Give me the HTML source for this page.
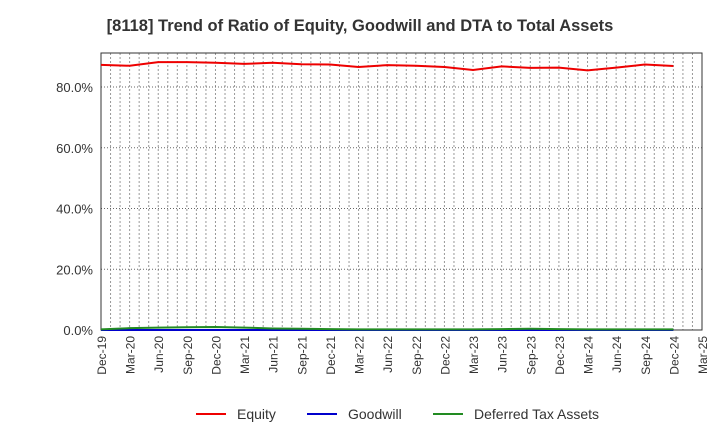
<!DOCTYPE html>
<html><head><meta charset="utf-8"><style>
body{margin:0;background:#fff;font-family:"Liberation Sans",sans-serif}
</style></head><body>
<svg id="c" width="720" height="440" xmlns="http://www.w3.org/2000/svg">
<text x="360" y="31" text-anchor="middle" font-size="16.5" font-weight="bold" fill="#333">[8118]  Trend of Ratio of Equity, Goodwill and DTA to Total Assets</text>
<g id="grid"></g><g id="axes"></g><g id="series"></g>
<g font-size="14" fill="#333">
<line x1="196" y1="414" x2="226" y2="414" stroke="#e00" stroke-width="2"/><text x="237" y="419">Equity</text>
<line x1="307" y1="414" x2="337" y2="414" stroke="#00c" stroke-width="2"/><text x="348" y="419">Goodwill</text>
<line x1="433" y1="414" x2="463" y2="414" stroke="#228b22" stroke-width="2"/><text x="474" y="419">Deferred Tax Assets</text>
</g>
</svg>
<script>
const categories=["Dec-19","Mar-20","Jun-20","Sep-20","Dec-20","Mar-21","Jun-21","Sep-21","Dec-21","Mar-22","Jun-22","Sep-22","Dec-22","Mar-23","Jun-23","Sep-23","Dec-23","Mar-24","Jun-24","Sep-24","Dec-24","Mar-25"];
const equity=[87.3,87.0,88.2,88.2,88.0,87.6,88.0,87.5,87.4,86.6,87.2,87.0,86.6,85.6,86.8,86.3,86.4,85.5,86.4,87.4,86.9];
const goodwill=[0,0,0,0,0,0,0,0,0,0,0,0,0,0,0,0,0,0,0,0,0];
const dta=[0.2,0.6,0.8,0.9,1.0,0.8,0.5,0.4,0.3,0.2,0.2,0.2,0.2,0.2,0.3,0.4,0.3,0.2,0.2,0.2,0.2];
const yTicks=[0,20,40,60,80];
const NS="http://www.w3.org/2000/svg";
const L=101,R=702,T=53,B=330,YMAX=91.2;
const x=i=>L+(R-L)*i/(categories.length-1);
const y=v=>B-(B-T)*v/YMAX;
function mk(tag,attrs,parent){const e=document.createElementNS(NS,tag);for(const k in attrs)e.setAttribute(k,attrs[k]);parent.appendChild(e);return e;}
const grid=document.getElementById('grid'),axes=document.getElementById('axes'),series=document.getElementById('series');
const nm=(categories.length-1)*3;
for(let m=1;m<nm;m++){const xx=L+(R-L)*m/nm;const g=mk('line',{x1:xx,x2:xx,y1:T,y2:B,stroke:'#999','stroke-dasharray':'2,2','stroke-width':1},grid);

}
yTicks.forEach(v=>{if(v>0){const g=mk('line',{x1:L,x2:R,y1:y(v),y2:y(v),stroke:'#666','stroke-dasharray':'1,2'},grid);

}
const t=mk('text',{x:L-8,y:y(v)+5,'text-anchor':'end','font-size':13,fill:'#333'},axes);t.textContent=v.toFixed(1)+'%';

});
const fr=mk('rect',{x:L,y:T,width:R-L,height:B-T,fill:'none',stroke:'#333','stroke-width':1},axes);


categories.forEach((c,i)=>{const t=mk('text',{transform:`translate(${x(i)+5},${B+6}) rotate(-90)`,'text-anchor':'end','font-size':12,fill:'#333'},axes);t.textContent=c;

});
function line(d,col,name){const p=mk('polyline',{points:d.map((v,i)=>x(i)+','+y(v)).join(' '),fill:'none',stroke:col,'stroke-width':2},series);

}
line(goodwill,'#00c','goodwill-line');
line(dta,'#228b22','dta-line');
line(equity,'#e00','equity-line');
</script>
</body></html>
